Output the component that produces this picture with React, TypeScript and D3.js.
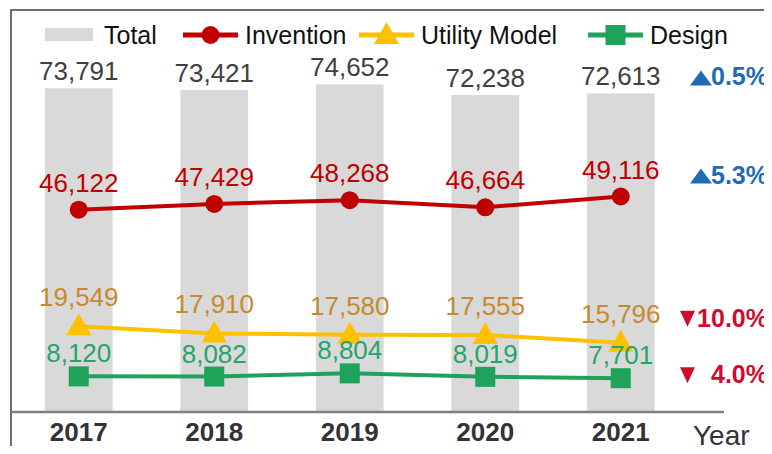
import React, { useEffect, useRef } from 'react';
import * as d3 from 'd3';

const years = ['2017', '2018', '2019', '2020', '2021'];
const total = [73791, 73421, 74652, 72238, 72613];
const invention = [46122, 47429, 48268, 46664, 49116];
const utilityModel = [19549, 17910, 17580, 17555, 15796];
const design = [8120, 8082, 8804, 8019, 7701];
const changeLabels = ['0.5%', '5.3%', '10.0%', '4.0%'];
const changeUp = [true, true, false, false];

const FONT = "'Liberation Sans', Arial, sans-serif";

const App = () => {
  const ref = useRef<HTMLDivElement>(null);

  useEffect(() => {
    const width = 772;
    const height = 454;
    const root = d3.select(ref.current);
    root.selectAll('*').remove();

    const svg = root
      .append('svg')
      .attr('width', width)
      .attr('height', height)
      .style('display', 'block')
      .style('font-family', FONT);

    svg.append('rect').attr('width', width).attr('height', height).attr('fill', '#fff');

    const x = d3.scaleBand().domain(years).range([11, 688.5]).paddingInner(0.5).paddingOuter(0.25);
    const y = d3.scaleLinear().domain([0, 80000]).range([412, 61]);
    const cx = (d: string) => (x(d) as number) + x.bandwidth() / 2;

    // frame
    svg
      .append('path')
      .attr('d', `M11,${height}V10H${width}`)
      .attr('fill', 'none')
      .attr('stroke', '#404040')
      .attr('stroke-width', 1.5);

    // total bars
    svg
      .selectAll('.bar')
      .data(total)
      .enter()
      .append('rect')
      .attr('x', (d, i) => x(years[i]) as number)
      .attr('y', (d) => y(d))
      .attr('width', x.bandwidth())
      .attr('height', (d) => y(0) - y(d))
      .attr('fill', '#d9d9d9');

    svg
      .selectAll('.tlabel')
      .data(total)
      .enter()
      .append('text')
      .attr('x', (d, i) => cx(years[i]))
      .attr('y', (d) => y(d) - 8)
      .attr('text-anchor', 'middle')
      .attr('font-size', 26)
      .attr('fill', '#404040')
      .text((d) => d3.format(',')(d));

    // axis line
    svg
      .append('line')
      .attr('x1', 11)
      .attr('x2', 724)
      .attr('y1', y(0))
      .attr('y2', y(0))
      .attr('stroke', '#808080')
      .attr('stroke-width', 2.5);

    svg
      .selectAll('.year')
      .data(years)
      .enter()
      .append('text')
      .attr('x', (d) => cx(d))
      .attr('y', 441)
      .attr('text-anchor', 'middle')
      .attr('font-size', 26)
      .attr('font-weight', 'bold')
      .attr('fill', '#333')
      .text((d) => d);

    svg
      .append('text')
      .attr('x', 693)
      .attr('y', 445)
      .attr('font-size', 28)
      .attr('fill', '#333')
      .text('Year');

    const line = d3
      .line<number>()
      .x((d, i) => cx(years[i]))
      .y((d) => y(d));

    const series = [
      { values: invention, color: '#c00000', label: '#c00000', marker: 'circle', dy: -18 },
      { values: utilityModel, color: '#ffc000', label: '#c68a2c', marker: 'triangle', dy: -20 },
      { values: design, color: '#1fa35b', label: '#25a56a', marker: 'square', dy: -14 },
    ];

    const drawMarker = (g: any, type: string, color: string) => {
      if (type === 'circle') {
        g.append('circle').attr('r', 9).attr('fill', color);
      } else if (type === 'triangle') {
        g.append('path').attr('d', 'M0,-13L12.5,9L-12.5,9Z').attr('fill', color);
      } else {
        g.append('rect').attr('x', -10).attr('y', -10).attr('width', 20).attr('height', 20).attr('fill', color);
      }
    };

    series.forEach((s) => {
      svg
        .append('path')
        .datum(s.values)
        .attr('d', line)
        .attr('fill', 'none')
        .attr('stroke', s.color)
        .attr('stroke-width', 4);

      s.values.forEach((v, i) => {
        const g = svg.append('g').attr('transform', `translate(${cx(years[i])},${y(v)})`);
        drawMarker(g, s.marker, s.color);
      });

      svg
        .selectAll(null)
        .data(s.values)
        .enter()
        .append('text')
        .attr('x', (d, i) => cx(years[i]))
        .attr('y', (d) => y(d) + s.dy)
        .attr('text-anchor', 'middle')
        .attr('font-size', 26)
        .attr('fill', s.label)
        .text((d) => d3.format(',')(d));
    });

    // legend
    const legend = svg.append('g').attr('font-size', 25).attr('fill', '#111');
    legend.append('rect').attr('x', 45).attr('y', 28).attr('width', 48).attr('height', 13).attr('fill', '#d9d9d9');
    legend.append('text').attr('x', 104).attr('y', 44).text('Total');
    const legendItems = [
      { x: 183, name: 'Invention' },
      { x: 359, name: 'Utility Model' },
      { x: 588, name: 'Design' },
    ];
    legendItems.forEach((it, i) => {
      const s = series[i];
      legend
        .append('line')
        .attr('x1', it.x)
        .attr('x2', it.x + 55)
        .attr('y1', 35)
        .attr('y2', 35)
        .attr('stroke', s.color)
        .attr('stroke-width', 5);
      const g = legend.append('g').attr('transform', `translate(${it.x + 27.5},35)`);
      drawMarker(g, s.marker, s.color);
      legend.append('text').attr('x', it.x + 62).attr('y', 44).text(it.name);
    });

    // change annotations
    const lastVals = [total[4], invention[4], utilityModel[4], design[4]];
    const offsets = [-8, -13, -16, 5];
    changeLabels.forEach((lbl, i) => {
      const base = y(lastVals[i]) + offsets[i];
      const up = changeUp[i];
      const color = up ? '#1f6cb5' : '#d00c2c';
      svg
        .append('path')
        .attr(
          'd',
          up
            ? `M690,${base}L712,${base}L701,${base - 15}Z`
            : `M680,${base - 16}L695,${base - 16}L687.5,${base}Z`
        )
        .attr('fill', color);
      svg
        .append('text')
        .attr('x', 768)
        .attr('y', base)
        .attr('text-anchor', 'end')
        .attr('font-size', 25)
        .attr('font-weight', 'bold')
        .attr('fill', color)
        .text(lbl);
    });
  }, []);

  return <div ref={ref} style={{ margin: -8 }}></div>;
};

export default App;
